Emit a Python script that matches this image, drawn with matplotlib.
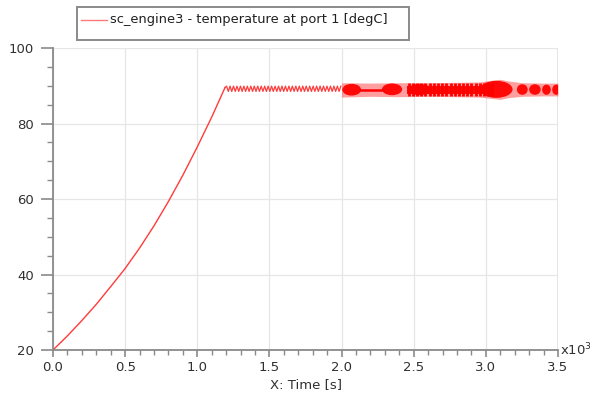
import matplotlib
matplotlib.use("Agg")
import matplotlib.pyplot as plt
from matplotlib.lines import Line2D
from matplotlib.patches import Rectangle, Ellipse
from matplotlib.ticker import MultipleLocator, FuncFormatter

# --- data (time in s, temperature in degC) ---
rise_t = [0, 100, 200, 300, 400, 469, 500, 600, 700, 800, 900, 1000, 1100, 1192]
rise_T = [20.0, 23.75, 27.8, 32.1, 36.8, 40.1, 41.6, 47.0, 52.9, 59.35, 66.3, 73.8, 81.7, 89.5]

# thermostat zig-zag between ~1.2 and 2.0 ks
zig_peak_t = [1203, 1227, 1251, 1275, 1299, 1323, 1347, 1371, 1395, 1419, 1443, 1467,
              1491, 1515, 1539, 1563, 1587, 1611, 1635, 1659, 1683, 1707, 1731, 1755,
              1779, 1803, 1827, 1851, 1875, 1899, 1923, 1947, 1971, 1995]
zig_trough_t = [1215, 1239, 1263, 1287, 1311, 1335, 1359, 1383, 1407, 1431, 1455, 1479,
                1503, 1527, 1551, 1575, 1599, 1623, 1647, 1671, 1695, 1719, 1743, 1767,
                1791, 1815, 1839, 1863, 1887, 1911, 1935, 1959, 1983]
zig_peak_T = 89.9
zig_trough_T = 88.5

# dense oscillation after 2.0 ks: outer envelope
band_t = [2000, 2200, 2400, 2600, 2800, 2950, 3050, 3100, 3150, 3250, 3400, 3500]
band_hi = [90.8, 90.7, 90.8, 90.8, 90.9, 91.0, 91.5, 91.7, 91.3, 90.8, 90.7, 90.7]
band_lo = [87.0, 87.2, 87.1, 87.2, 87.1, 87.0, 86.6, 86.4, 86.8, 87.2, 87.3, 87.3]

# darker clusters inside the band
blob_t0 = [2005, 2280, 2460, 2960, 3215, 3300, 3390, 3460]
blob_t1 = [2135, 2420, 2620, 3185, 3290, 3380, 3450, 3515]
blob_lo = [87.4, 87.5, 87.5, 86.8, 87.6, 87.6, 87.6, 87.6]
blob_hi = [90.5, 90.6, 90.5, 91.3, 90.4, 90.4, 90.3, 90.3]

thin_t = [2130, 2285]
thin_T = [88.9, 88.9]

core_t = [2450, 3050]
core_lo = [87.9, 87.9]
core_hi = [90.0, 90.0]

stripe_t = [2465, 2494, 2523, 2552, 2581, 2610, 2639, 2668, 2697, 2726, 2755,
            2784, 2813, 2842, 2871, 2900, 2929, 2958, 2987, 3016, 3045]
stripe_lo = 87.3
stripe_hi = 90.6

legend_label = "sc_engine3 - temperature at port 1 [degC]"

W, H, DPI = 5.9, 4.01, 100
fig = plt.figure(figsize=(W, H), dpi=DPI)
ax = fig.add_axes([53 / 590, 1 - 350 / 401, 505 / 590, 302 / 401])

red = "#ff0000"
ax.plot(rise_t, rise_T, color="#ff3b3b", lw=1.0)

zig_t = [rise_t[-1]]
zig_T = [rise_T[-1]]
for i, p in enumerate(zig_peak_t):
    zig_t.append(p)
    zig_T.append(zig_peak_T)
    if i < len(zig_trough_t):
        zig_t.append(zig_trough_t[i])
        zig_T.append(zig_trough_T)
ax.plot(zig_t, zig_T, color="#ff3b3b", lw=0.9)

ax.fill_between(band_t, band_lo, band_hi, color=red, alpha=0.38, lw=0)

for t0, t1, lo, hi in zip(blob_t0, blob_t1, blob_lo, blob_hi):
    ax.add_patch(Ellipse((0.5 * (t0 + t1), 0.5 * (lo + hi)), t1 - t0, hi - lo,
                         facecolor=red, edgecolor="none", alpha=0.95))

ax.plot(thin_t, thin_T, color=red, lw=1.8)
ax.fill_between(core_t, core_lo, core_hi, color=red, alpha=0.95, lw=0)
ax.vlines(stripe_t, stripe_lo, stripe_hi, color=red, lw=2.0)

ax.set_xlim(0, 3500)
ax.set_ylim(20, 100)
ax.xaxis.set_major_locator(MultipleLocator(500))
ax.xaxis.set_minor_locator(MultipleLocator(100))
ax.yaxis.set_major_locator(MultipleLocator(20))
ax.yaxis.set_minor_locator(MultipleLocator(5))
ax.xaxis.set_major_formatter(FuncFormatter(lambda v, p: f"{v / 1000:.1f}"))

for s in ["top", "right"]:
    ax.spines[s].set_visible(False)
for s in ["left", "bottom"]:
    ax.spines[s].set_color("#8a8a8a")
    ax.spines[s].set_linewidth(1.3)

ax.tick_params(axis="y", which="major", length=8.5, width=1.2, color="#8a8a8a",
               labelsize=9.5, labelcolor="#303030", pad=5)
ax.tick_params(axis="y", which="minor", length=4, width=1.0, color="#8a8a8a")
ax.tick_params(axis="x", which="major", length=5, width=1.2, color="#8a8a8a",
               labelsize=9.5, labelcolor="#303030", pad=3)
ax.tick_params(axis="x", which="minor", length=3.5, width=1.0, color="#8a8a8a")

ax.grid(True, which="major", color="#e6e6e6", lw=0.9)
ax.set_axisbelow(True)
ax.axvline(3500, color="#e0e0e0", lw=1.2, zorder=0)

ax.set_xlabel("X: Time [s]", fontsize=9.5, color="#303030", labelpad=3)
ax.text(1.003, 0.0, r"x10$^3$", transform=ax.transAxes, fontsize=9.5,
        color="#303030", ha="left", va="center")

# legend box drawn above the axes
fig.add_artist(Rectangle((77 / 590, 1 - 40 / 401), 332 / 590, 33 / 401,
                         transform=fig.transFigure, fill=False,
                         edgecolor="#8a8a8a", lw=1.4))
fig.add_artist(Line2D([81 / 590, 107 / 590], [1 - 20 / 401, 1 - 20 / 401],
                      transform=fig.transFigure, color="#ff7b7b", lw=1.0))
fig.text(110 / 590, 1 - 20 / 401, legend_label, fontsize=9.4, color="#202020",
         ha="left", va="center")

fig.savefig("out.png", dpi=DPI)
